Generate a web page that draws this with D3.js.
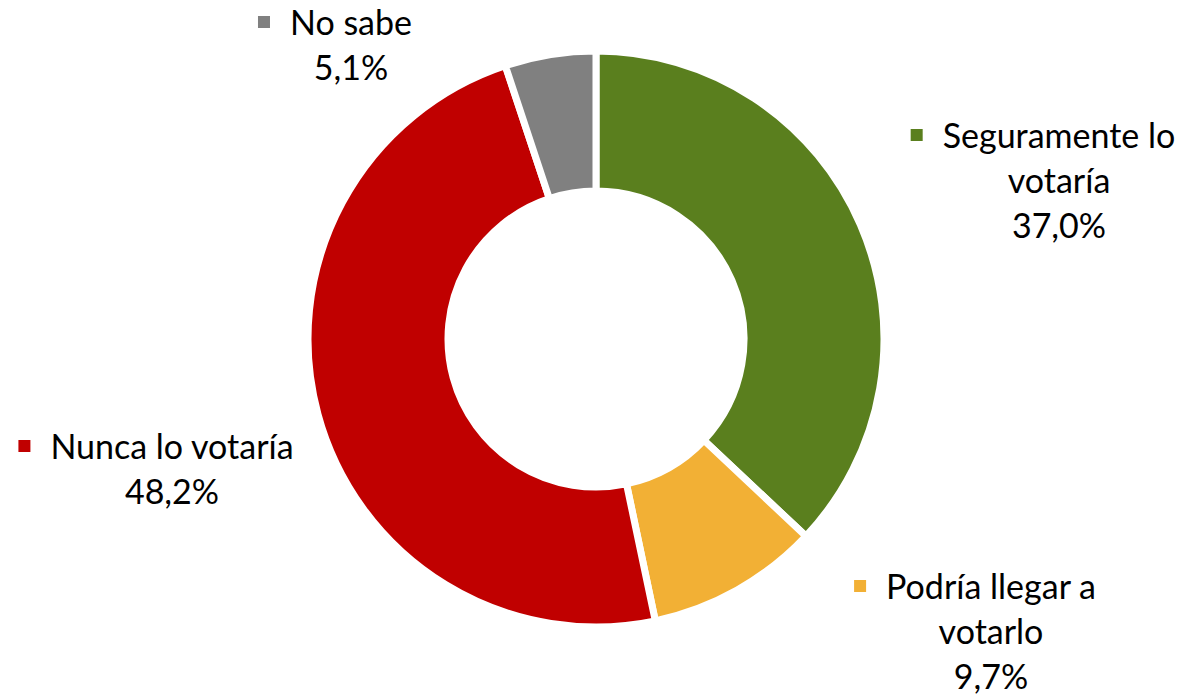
<!DOCTYPE html>
<html>
<head>
<meta charset="utf-8">
<script src="https://cdn.jsdelivr.net/npm/d3@7"></script>
<style>
  html, body { margin: 0; padding: 0; background: #fff; }
  text { font-family: Lato, "Liberation Sans", sans-serif; fill: #000; }
</style>
</head>
<body>
<div id="chart"></div>
<script>
const categories = ["Seguramente lo votaría", "Podría llegar a votarlo", "Nunca lo votaría", "No sabe"];
const values = [37.0, 9.7, 48.2, 5.1];
const valueLabels = ["37,0%", "9,7%", "48,2%", "5,1%"];
const colors = ["#5A7F1E", "#F2B035", "#C00000", "#808080"];
// how each label wraps, like the original
const labelLines = [["Seguramente lo", "votaría"], ["Podría llegar a", "votarlo"], ["Nunca lo votaría"], ["No sabe"]];

const width = 1182, height = 695;
const cx = 596, cy = 339;
const outerR = 288, innerR = 148;

// centre x and first baseline of every label block
const labelPos = [
    { x: 1059, y: 148 },
    { x: 991, y: 599 },
    { x: 172, y: 459 },
    { x: 351, y: 35 }
];
const lineHeight = 45;

const svg = d3.select("#chart").append("svg")
    .attr("width", width)
    .attr("height", height)
    .attr("viewBox", `0 0 ${width} ${height}`);

const pie = d3.pie().sort(null).value(d => d)(values);
const arc = d3.arc().innerRadius(innerR).outerRadius(outerR);

const g = svg.append("g").attr("transform", `translate(${cx},${cy})`);

g.selectAll("path")
    .data(pie)
    .enter().append("path")
    .attr("d", arc)
    .attr("fill", (d, i) => colors[i])
    .attr("stroke", "#fff")
    .attr("stroke-width", 7)
    .attr("stroke-linejoin", "miter");

// data labels with legend key
svg.selectAll(".lbl")
    .data(categories)
    .enter().append("g")
    .attr("class", "lbl")
    .each(function(d, i) {
        const item = d3.select(this);
        const lines = labelLines[i].concat([valueLabels[i]]);
        const p = labelPos[i];
        const txt = item.append("text")
            .attr("text-anchor", "middle")
            .style("font-size", "34px");
        lines.forEach((l, k) => {
            txt.append("tspan")
                .attr("x", p.x)
                .attr("y", p.y + k * lineHeight)
                .text(l);
        });
        const w = txt.select("tspan").node().getComputedTextLength();
        item.append("rect")
            .attr("x", p.x - w / 2 - 32)
            .attr("y", p.y - 19)
            .attr("width", 12)
            .attr("height", 12)
            .attr("fill", colors[i]);
    });
</script>
</body>
</html>
